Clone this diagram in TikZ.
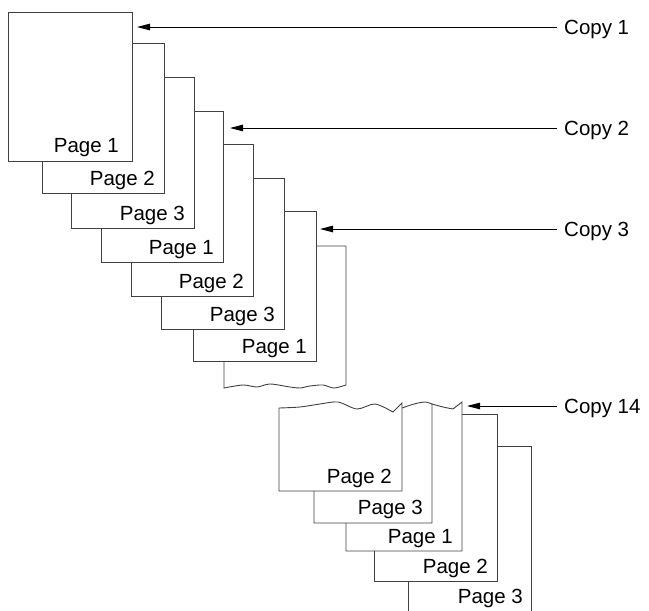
\documentclass[tikz,border=0pt]{standalone}
\usepackage{fontspec}
\setmainfont{Liberation Sans}
\usetikzlibrary{arrows.meta}

\begin{document}
\begin{tikzpicture}[x=1pt, y=-1pt, >={Triangle[length=13pt, width=6.5pt]},
    sheet/.style={draw=black!75, line width=0.9pt},
    pagelbl/.style={anchor=base east, inner sep=0pt, font=\fontsize{20.5}{24}\selectfont},
    copylbl/.style={anchor=west, inner xsep=7pt, inner ysep=0pt, text depth=0pt, font=\fontsize{20.5}{24}\selectfont},
    pointer/.style={->, line width=1pt}]
    \useasboundingbox (0,0) rectangle (649,611);

    % first stack of sheets
    \draw[sheet] (8,12) rectangle (132,161);
    \node[pagelbl] (s1) at (119,152) {Page 1};
    \foreach \i/\L/\R/\T/\B/\pg [remember=\R as \PR (initially 132), remember=\B as \PB (initially 161)] in
        {2/42/164/43/193/Page 2, 3/71/194/77/228/Page 3, 4/101/223/111/262/Page 1,
         5/131/253/144/296/Page 2, 6/161/284/178/329/Page 3, 7/193/316/211/361/Page 1} {
        \draw[sheet] (\PR,\T) -- (\R,\T) -- (\R,\B) -- (\L,\B) -- (\L,\PB);
        \node[pagelbl] (s\i) at (\R-9,\B-8) {\pg};
    }
    % torn sheet
    \draw[sheet] (316,246) -- (346,246) -- (346,385) -- plot[smooth] coordinates
        {(346,385) (334,388) (323,385) (310,386) (300,388) (290,387) (270,384) (257,387) (243,385) (224,388)}
        -- (224,361);

    % second stack of sheets
    \draw[sheet] plot[smooth] coordinates {(279,408) (300,407) (320,404) (338,402) (357,409) (375,404) (393,412)}
        -- (402,403) -- (402,491) -- (279,491) -- cycle;
    \node[pagelbl] (r1) at (392,483) {Page 2};
    \draw[sheet] plot[smooth] coordinates {(402,408) (414,404) (425,402) (432,404)}
        -- (432,523) -- (314,523) -- (314,491);
    \node[pagelbl] (r2) at (423,514) {Page 3};
    \draw[sheet] plot[smooth] coordinates {(432,404) (443,407) (453,409)}
        -- (462,402) -- (462,551) -- (346,551) -- (346,523);
    \node[pagelbl] (r3) at (453,543) {Page 1};
    \draw[sheet] (462,414) -- (497,414) -- (497,581) -- (374,581) -- (374,551);
    \node[pagelbl] (r4) at (488,573) {Page 2};
    \draw[sheet] (497,446) -- (531,446) -- (531,611) (408,581) -- (408,611);
    \node[pagelbl] (r5) at (523,603) {Page 3};

    % copy pointers
    \coordinate (t1) at (137,27);
    \coordinate (t2) at (230,128);
    \coordinate (t3) at (320,229);
    \coordinate (t14) at (467,406);
    \node[copylbl] (c1) at (557,27) {Copy 1};
    \node[copylbl] (c2) at (557,128) {Copy 2};
    \node[copylbl] (c3) at (557,229) {Copy 3};
    \node[copylbl] (c14) at (557,406) {Copy 14};
    \draw[pointer] (c1) -- (t1);
    \draw[pointer] (c2) -- (t2);
    \draw[pointer] (c3) -- (t3);
    \draw[pointer] (c14) -- (t14);
\end{tikzpicture}
\end{document}
